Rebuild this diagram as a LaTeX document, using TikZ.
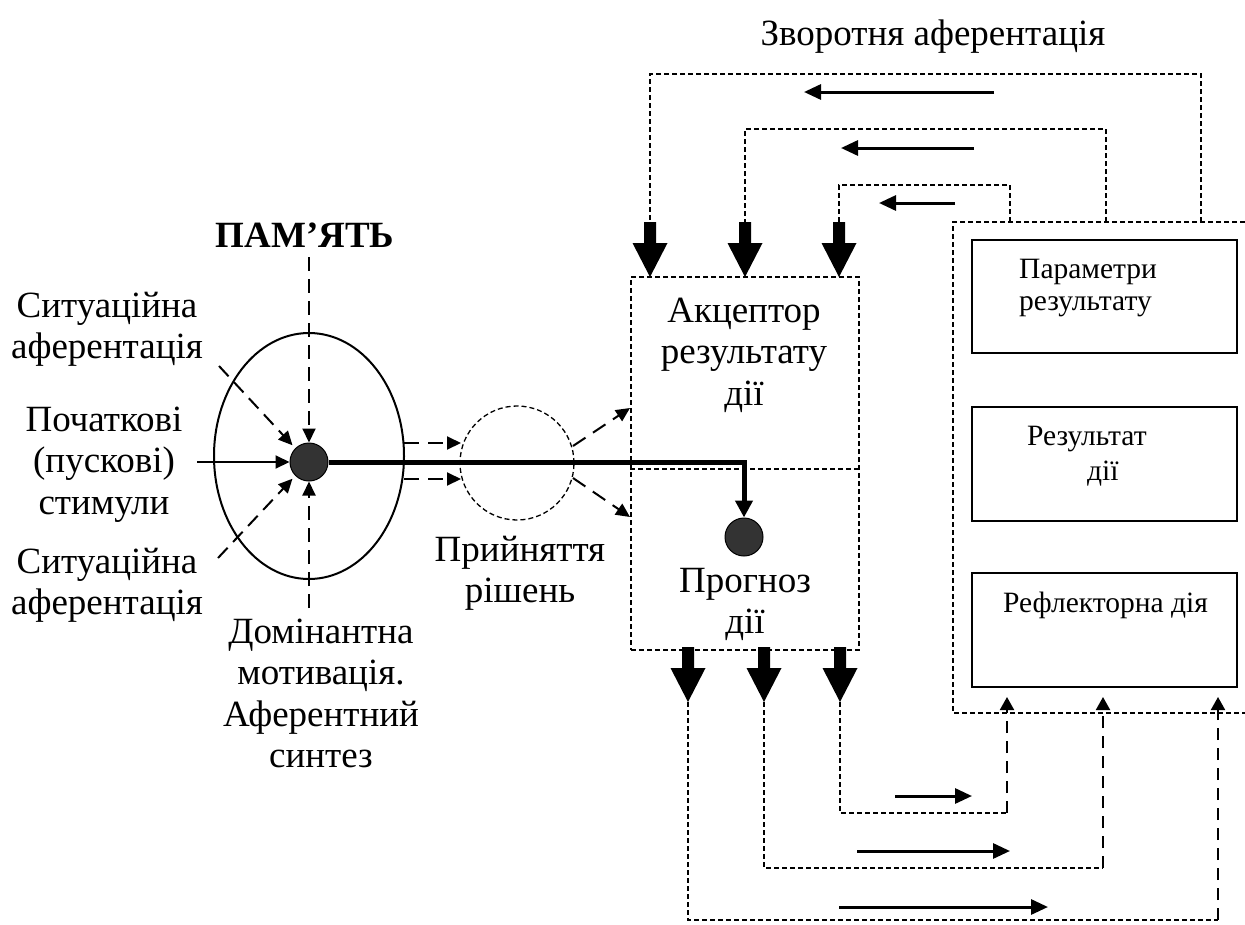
\documentclass[tikz,border=0pt]{standalone}
\usepackage{fontspec}
\setmainfont{Liberation Serif}
\usetikzlibrary{arrows.meta,shapes.geometric}
\tikzset{
  fine/.style={line width=1.3pt, dash pattern=on 5pt off 3pt},
  longdash/.style={line width=2pt, dash pattern=on 14pt off 8pt},
  tri/.style={-{Triangle[length=14pt,width=13pt]}},
  solidarr/.style={line width=3pt,-{Triangle[length=17pt,width=15pt]}},
  lbl/.style={font=\fontsize{37}{41.5}\selectfont, align=center, inner sep=0pt},
  sm/.style={font=\fontsize{29.5}{32}\selectfont, align=left, inner sep=0pt, anchor=base west},
  blackdot/.style={circle, fill=black!80, draw=black, line width=1pt, minimum size=38pt, inner sep=0pt},
  plainbox/.style={draw, line width=1.6pt, minimum width=265pt, minimum height=114pt, inner sep=0pt},
  bigdown/.pic={\fill[black] (-6,0) -- (6,0) -- (6,21) -- (17.5,21) -- (0,55) -- (-17.5,21) -- (-6,21) -- cycle;}
}
\begin{document}
\begin{tikzpicture}[x=1pt,y=-1pt]
\useasboundingbox (0,0) rectangle (1245,924);

% ---------- afferent synthesis ----------
\node[ellipse, draw, line width=2pt, minimum width=190pt, minimum height=246pt, inner sep=0pt] (ell) at (309,456) {};
\node[blackdot] (d1) at (309,462) {};
\node[lbl, anchor=base, font=\fontsize{37}{41.5}\selectfont\bfseries] (pam) at (305,247) {ПАМ’ЯТЬ};
\node[lbl, anchor=base] (sit1) at (107,358.5) {Ситуаційна\\аферентація};
\node[lbl, anchor=base] (poch) at (104,514) {Початкові\\(пускові)\\стимули};
\node[lbl, anchor=base] (sit2) at (107,614.5) {Ситуаційна\\аферентація};
\node[lbl, anchor=base] (dom) at (321,767.5) {Домінантна\\мотивація.\\Аферентний\\синтез};

\coordinate (pamend) at (309,257);
\coordinate (domend) at (309,608);
\coordinate (s1end) at (219,366);
\coordinate (s2end) at (218,558);
\coordinate (stimend) at (197,462);
\draw[longdash, tri] (pamend) -- (d1.north);
\draw[longdash, tri] (domend) -- (d1.south);
\draw[longdash, tri, shorten >=4pt] (s1end) -- (d1.north west);
\draw[longdash, tri, shorten >=4pt] (s2end) -- (d1.south west);
\draw[line width=2pt, tri] (stimend) -- (d1.west);

% ---------- decision ----------
\node[circle, draw, fine, minimum size=114pt, inner sep=0pt] (dec) at (517,463) {};
\node[lbl, anchor=base] (prl) at (520,602.5) {Прийняття\\рішень};
\coordinate (e1) at (404,443);
\coordinate (e2) at (404,479);
\coordinate (c1) at (461,443);
\coordinate (c2) at (461,479);
\draw[longdash, dash pattern=on 15pt off 9pt, tri] (e1) -- (c1);
\draw[longdash, dash pattern=on 15pt off 9pt, tri] (e2) -- (c2);

% ---------- acceptor ----------
\node[draw, fine, minimum width=228pt, minimum height=373pt, inner sep=0pt] (acc) at (745,463.5) {};
\draw[fine] (acc.west |- 0,469) -- (acc.east |- 0,469);
\node[lbl, anchor=base] (acct) at (744,405) {Акцептор\\результату\\дії};
\node[blackdot] (d2) at (744,537) {};
\node[lbl, anchor=base] (prog) at (745,633.5) {Прогноз\\дії};

\coordinate (o1) at (573,446);
\coordinate (o2) at (573,478);
\coordinate (a1) at (630,408);
\coordinate (a2) at (630,517);
\draw[longdash, dash pattern=on 15pt off 9pt, tri] (o1) -- (a1);
\draw[longdash, dash pattern=on 15pt off 9pt, tri] (o2) -- (a2);

\draw[line width=5pt, -{Triangle[length=17pt,width=17pt]}] (d1.east) -| (d2.north);

% ---------- result block ----------
\coordinate (bbTR) at (1245,222);
\coordinate (bbTL) at (953,222);
\coordinate (bbBL) at (953,713);
\coordinate (bbBR) at (1245,713);
\draw[fine] (bbTR) -- (bbTL) -- (bbBL) -- (bbBR);

\node[plainbox, minimum height=113pt] (par) at (1104.5,296.5) {};
\node[plainbox] (res) at (1104.5,464) {};
\node[plainbox] (ref) at (1104.5,630) {};
\node[sm] (part) at (1019,310) {Параметри\\результату};
\node[sm, font=\fontsize{29.5}{35}\selectfont] (rest) at (1027,480) {Результат\\\hspace*{60pt}дії};
\node[sm] (reft) at (1003,612) {Рефлекторна дія};

% ---------- feedback (top) ----------
\node[lbl, anchor=base] (title) at (933,45) {Зворотня аферентація};

\pic at (650,222) {bigdown};
\pic at (745,222) {bigdown};
\pic at (839,222) {bigdown};

\coordinate (t1a) at (1201,222); \coordinate (t1b) at (1201,74);
\coordinate (t1c) at (650,74);   \coordinate (t1d) at (650,222);
\coordinate (t2a) at (1106,222); \coordinate (t2b) at (1106,129);
\coordinate (t2c) at (745,129);  \coordinate (t2d) at (745,222);
\coordinate (t3a) at (1010,222); \coordinate (t3b) at (1010,185);
\coordinate (t3c) at (839,185);  \coordinate (t3d) at (839,222);
\draw[fine] (t1a) -- (t1b) -- (t1c) -- (t1d);
\draw[fine] (t2a) -- (t2b) -- (t2c) -- (t2d);
\draw[fine] (t3a) -- (t3b) -- (t3c) -- (t3d);

\coordinate (ta1s) at (994,92);  \coordinate (ta1e) at (804,92);
\coordinate (ta2s) at (974,148); \coordinate (ta2e) at (841,148);
\coordinate (ta3s) at (955,203); \coordinate (ta3e) at (879,203);
\draw[solidarr] (ta1s) -- (ta1e);
\draw[solidarr] (ta2s) -- (ta2e);
\draw[solidarr] (ta3s) -- (ta3e);

% ---------- efferent (bottom) ----------
\pic at (688,647) {bigdown};
\pic at (764,647) {bigdown};
\pic at (840,647) {bigdown};

\coordinate (b1a) at (840,702); \coordinate (b1b) at (840,813);
\coordinate (b1c) at (1007,813); \coordinate (b1d) at (1007,697);
\coordinate (b2a) at (764,702); \coordinate (b2b) at (764,868);
\coordinate (b2c) at (1103,868); \coordinate (b2d) at (1103,697);
\coordinate (b3a) at (688,702); \coordinate (b3b) at (688,920);
\coordinate (b3c) at (1218,920); \coordinate (b3d) at (1218,697);
\draw[fine] (b1a) -- (b1b) -- (b1c);
\draw[fine] (b2a) -- (b2b) -- (b2c);
\draw[fine] (b3a) -- (b3b) -- (b3c);
\draw[longdash, dash pattern=on 12pt off 8pt, -{Triangle[length=13pt,width=14pt]}] (b1c) -- (b1d);
\draw[longdash, dash pattern=on 12pt off 8pt, -{Triangle[length=13pt,width=14pt]}] (b2c) -- (b2d);
\draw[longdash, dash pattern=on 12pt off 8pt, -{Triangle[length=13pt,width=14pt]}] (b3c) -- (b3d);

\coordinate (ba1s) at (895,796);  \coordinate (ba1e) at (972,796);
\coordinate (ba2s) at (857,851);  \coordinate (ba2e) at (1010,851);
\coordinate (ba3s) at (839,907);  \coordinate (ba3e) at (1048,907);
\draw[solidarr] (ba1s) -- (ba1e);
\draw[solidarr] (ba2s) -- (ba2e);
\draw[solidarr] (ba3s) -- (ba3e);

\end{tikzpicture}
\end{document}
